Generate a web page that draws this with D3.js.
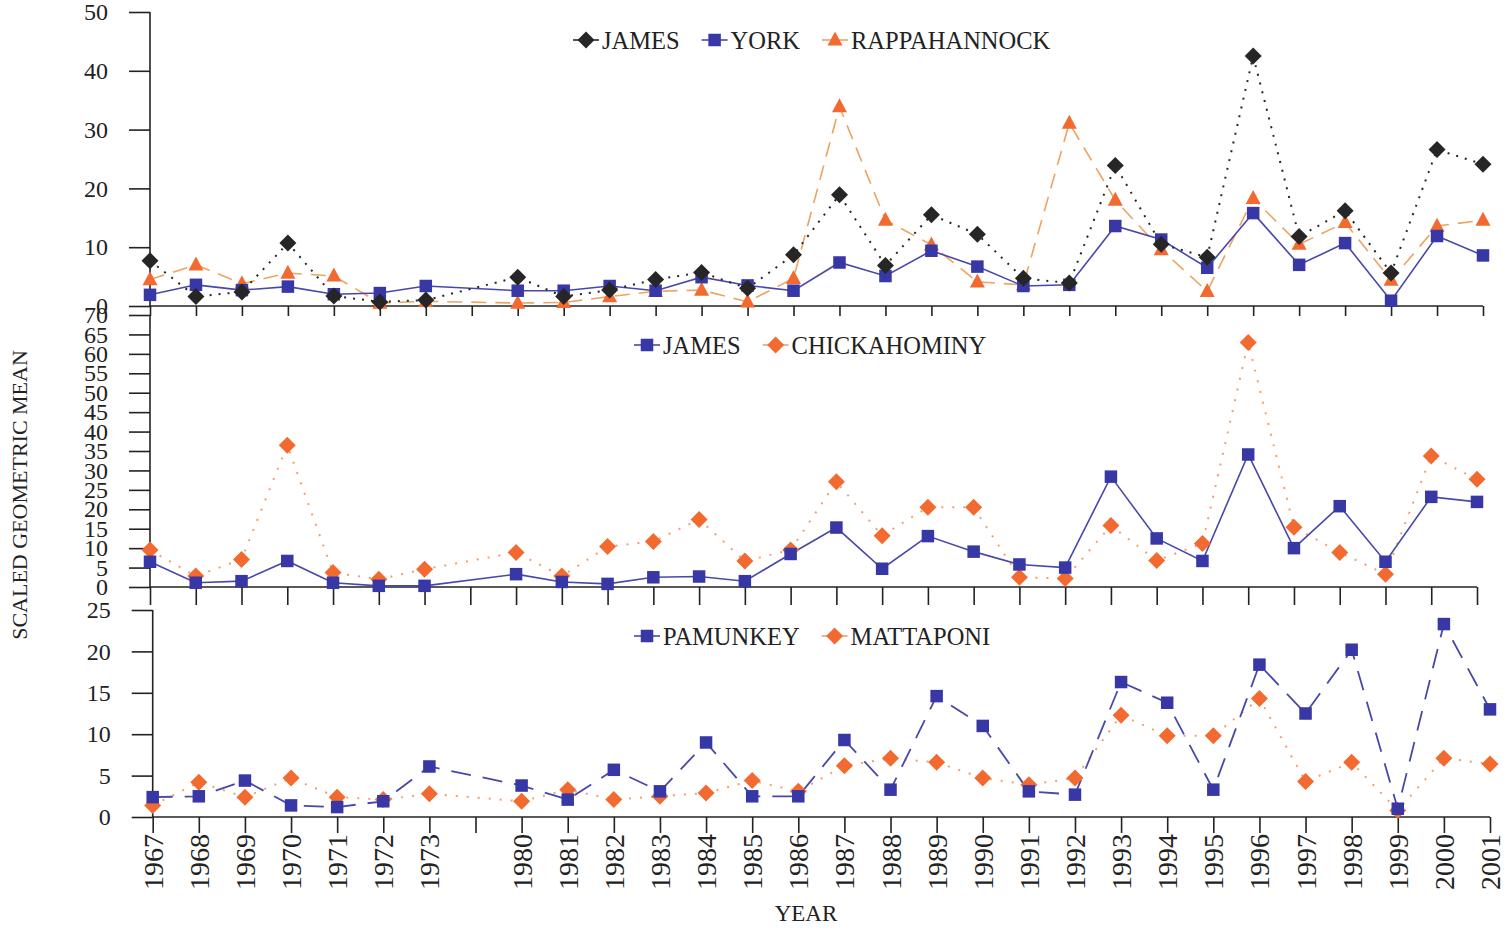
<!DOCTYPE html>
<html><head><meta charset="utf-8">
<script src="https://cdn.jsdelivr.net/npm/d3@7"></script>
<style>body{margin:0;background:#fff}svg{display:block}</style></head>
<body><svg id="c" width="1507" height="929"></svg>
<script>
// x slots: 1967-1973, a blank slot, 1980-2001
const slots = ["1967","1968","1969","1970","1971","1972","1973","","1980","1981","1982","1983","1984","1985","1986","1987","1988","1989","1990","1991","1992","1993","1994","1995","1996","1997","1998","1999","2000","2001"];
const years = ["1967","1968","1969","1970","1971","1972","1973","1980","1981","1982","1983","1984","1985","1986","1987","1988","1989","1990","1991","1992","1993","1994","1995","1996","1997","1998","1999","2000","2001"];

// Panel 1
const james1 = [7.7,1.6,2.4,10.7,1.7,0.7,1.0,4.9,1.6,2.7,4.5,5.7,3.0,8.7,18.9,6.9,15.5,12.2,4.7,3.9,23.9,10.5,8.3,42.5,11.8,16.2,5.6,26.6,24.1];
const york = [1.9,3.6,2.7,3.3,2.0,2.2,3.4,2.6,2.6,3.4,2.6,4.9,3.5,2.6,7.4,5.1,9.4,6.7,3.4,3.6,13.6,11.3,6.5,15.8,7.0,10.7,0.9,11.9,8.6];
const rappahannock = [4.5,7.0,3.8,5.6,5.1,0.5,0.8,0.5,0.6,1.6,2.5,2.7,0.7,4.7,33.9,14.6,10.4,4.1,3.6,31.1,18.0,9.6,2.5,18.3,10.5,14.2,4.4,13.6,14.6];
// Panel 2
const james2 = [6.5,1.1,1.5,6.7,1.1,0.3,0.3,3.3,1.3,0.8,2.5,2.7,1.5,8.5,15.3,4.7,13.1,9.1,5.8,5.0,28.4,12.5,6.7,34.1,10.0,20.8,6.5,23.2,21.9];
const chickahominy = [9.5,2.8,7.1,36.5,3.7,2.0,4.6,8.9,2.8,10.4,11.7,17.4,6.7,9.5,27.1,13.2,20.5,20.5,2.5,2.2,15.8,6.8,11.2,62.9,15.4,8.9,3.3,33.7,27.7];
// Panel 3
const pamunkey = [2.4,2.5,4.4,1.4,1.2,1.9,6.1,3.8,2.1,5.7,3.1,9.0,2.5,2.5,9.3,3.3,14.6,11.0,3.1,2.7,16.3,13.8,3.3,18.4,12.5,20.2,1.0,23.3,13.0];
const mattaponi = [1.4,4.2,2.4,4.7,2.4,2.1,2.8,1.9,3.3,2.1,2.5,2.9,4.4,3.1,6.2,7.1,6.6,4.7,3.9,4.7,12.3,9.8,9.8,14.3,4.3,6.6,0.8,7.1,6.4];

const ticks1 = [0,10,20,30,40,50];
const ticks2 = [0,5,10,15,20,25,30,35,40,45,50,55,60,65,70];
const ticks3 = [0,5,10,15,20,25];

const C = {black:"#262626", blue:"#3737a6", blueLine:"#4848ab", orange:"#f26a30", tan:"#eba462", dotOrange:"#f0a070"};
const FONT = "'Liberation Serif','Times New Roman',serif";

const svg = d3.select("#c");

const panels = [
  {yDomain:[0,50], yRange:[306,12], ticks:ticks1, xRange:[150,1483], xTick:10, legendX:586, legendY:40,
   series:[
     {name:"RAPPAHANNOCK", vals:rappahannock, marker:"triangle", mcol:C.orange, lcol:C.tan, dash:"15,9", lw:1.6},
     {name:"YORK", vals:york, marker:"square", mcol:C.blue, lcol:C.blueLine, dash:null, lw:1.6},
     {name:"JAMES", vals:james1, marker:"diamond", mcol:C.black, lcol:C.black, dash:"2,7", lw:2}
   ], legendOrder:["JAMES","YORK","RAPPAHANNOCK"]},
  {yDomain:[0,70], yRange:[587,315], ticks:ticks2, xRange:[150,1477], xTick:18, legendX:647, legendY:345,
   series:[
     {name:"CHICKAHOMINY", vals:chickahominy, marker:"diamond", mcol:C.orange, lcol:C.dotOrange, dash:"2,9", lw:2},
     {name:"JAMES", vals:james2, marker:"square", mcol:C.blue, lcol:C.blueLine, dash:null, lw:1.6}
   ], legendOrder:["JAMES","CHICKAHOMINY"]},
  {yDomain:[0,25], yRange:[817,610], ticks:ticks3, xRange:[152.7,1490], xTick:16, legendX:647, legendY:636,
   series:[
     {name:"MATTAPONI", vals:mattaponi, marker:"diamond", mcol:C.orange, lcol:C.dotOrange, dash:"2,9", lw:2},
     {name:"PAMUNKEY", vals:pamunkey, marker:"square", mcol:C.blue, lcol:C.blueLine, dash:"20,12", lw:1.8}
   ], legendOrder:["PAMUNKEY","MATTAPONI"], bottom:true}
];

function drawMarker(g, type, x, y, col){
  if(type==="diamond"){
    const r=8.5;
    g.append("path").attr("d",`M${x},${y-r}L${x+r},${y}L${x},${y+r}L${x-r},${y}Z`).attr("fill",col);
  } else if(type==="square"){
    const s=12.5;
    g.append("rect").attr("x",x-s/2).attr("y",y-s/2).attr("width",s).attr("height",s).attr("fill",col);
  } else {
    const w=15, h=14;
    g.append("path").attr("d",`M${x},${y-h*0.6}L${x+w/2},${y+h*0.4}L${x-w/2},${y+h*0.4}Z`).attr("fill",col);
  }
}

panels.forEach((p, pi) => {
  const x = d3.scalePoint().domain(slots).range(p.xRange);
  const y = d3.scaleLinear().domain(p.yDomain).range(p.yRange);
  const g = svg.append("g");

  // y axis
  const ya = g.append("g").attr("transform",`translate(${p.xRange[0]},0)`)
    .call(d3.axisLeft(y).tickValues(p.ticks).tickSize(21).tickPadding(21).tickFormat(d3.format("d")));
  ya.select(".domain").attr("stroke","#222").attr("stroke-width",1.6).attr("d",`M0,${p.yRange[0]}V${p.yRange[1]}`);
  ya.selectAll(".tick line").attr("stroke","#222").attr("stroke-width",1.6);
  ya.selectAll("text").attr("font-family",FONT).attr("font-size",24).attr("fill","#222");

  // x axis
  const xa = g.append("g").attr("transform",`translate(0,${p.yRange[0]})`)
    .call(d3.axisBottom(x).tickSize(p.xTick).tickFormat(d=> p.bottom ? d : ""));
  xa.select(".domain").attr("stroke","#222").attr("stroke-width",1.6).attr("d",`M${p.xRange[0]},0H${p.xRange[1]}`);
  xa.selectAll(".tick line").attr("stroke","#222").attr("stroke-width",1.6);
  if(p.bottom){
    xa.selectAll("text").attr("font-family",FONT).attr("font-size",28).attr("fill","#222")
      .attr("text-anchor","end").attr("dy",null)
      .attr("transform","rotate(-90)").attr("x",-17).attr("y",9.5);
  } else {
    xa.selectAll("text").remove();
  }

  // lines then markers
  p.series.forEach(s => {
    const pts = years.map((yr,i)=>[x(yr), y(s.vals[i])]);
    g.append("path").attr("d", d3.line()(pts)).attr("fill","none").attr("stroke",s.lcol)
      .attr("stroke-width",s.lw).attr("stroke-dasharray",s.dash);
  });
  p.series.forEach(s => {
    const mg = g.append("g");
    years.forEach((yr,i)=> drawMarker(mg, s.marker, x(yr), y(s.vals[i]), s.mcol));
  });

  // legend
  let lx = p.legendX;
  const ly = p.legendY;
  p.legendOrder.forEach(name => {
    const s = p.series.find(d=>d.name===name);
    const lg = g.append("g");
    lg.append("line").attr("x1",lx-13).attr("x2",lx+13).attr("y1",ly).attr("y2",ly)
      .attr("stroke",s.lcol).attr("stroke-width",1.6);
    drawMarker(lg, s.marker, lx, ly, s.mcol);
    const t = lg.append("text").attr("x",lx+16).attr("y",ly+8.5).attr("font-family",FONT)
      .attr("font-size",24.5).attr("fill","#222").text(name);
    lx = lx + 16 + t.node().getComputedTextLength() + 35;
  });
});

svg.append("text").attr("x",806).attr("y",921).attr("text-anchor","middle")
  .attr("font-family",FONT).attr("font-size",23).attr("fill","#222").text("YEAR");
svg.append("text").attr("transform","translate(27,495) rotate(-90)").attr("text-anchor","middle")
  .attr("font-family",FONT).attr("font-size",22).attr("fill","#222").text("SCALED GEOMETRIC MEAN");
</script></body></html>
